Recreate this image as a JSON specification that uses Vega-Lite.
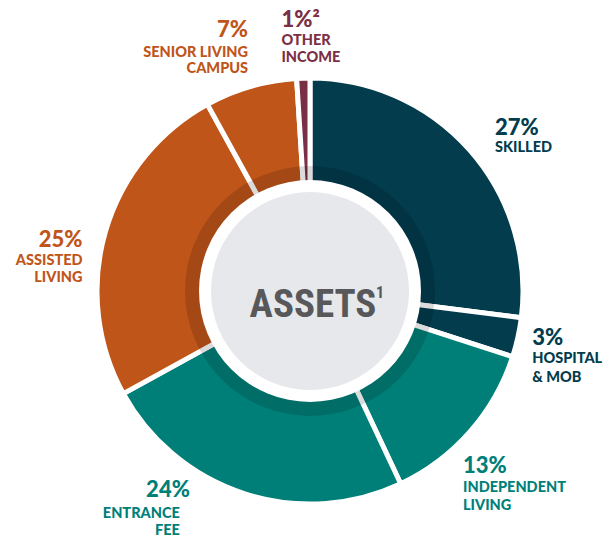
{
  "$schema": "https://vega.github.io/schema/vega-lite/v6.json",
  "width": 610,
  "height": 492,
  "padding": {"left": 5, "top": 45, "right": 0, "bottom": 0},
  "autosize": {"type": "none"},
  "background": "white",
  "config": {"view": {"stroke": null}},
  "data": {
    "values": [
      {"idx": 1, "segment": "Skilled", "value": 27, "pct": "27%", "name": "SKILLED"},
      {"idx": 2, "segment": "Hospital & MOB", "value": 3, "pct": "3%", "name": "HOSPITAL\n& MOB"},
      {"idx": 3, "segment": "Independent Living", "value": 13, "pct": "13%", "name": "INDEPENDENT\nLIVING"},
      {"idx": 4, "segment": "Entrance Fee", "value": 24, "pct": "24%", "name": "ENTRANCE\nFEE"},
      {"idx": 5, "segment": "Assisted Living", "value": 25, "pct": "25%", "name": "ASSISTED\nLIVING"},
      {"idx": 6, "segment": "Senior Living Campus", "value": 7, "pct": "7%", "name": "SENIOR LIVING\nCAMPUS"},
      {"idx": 7, "segment": "Other Income", "value": 1, "pct": "1%²", "name": "OTHER\nINCOME"}
    ]
  },
  "encoding": {
    "theta": {"field": "value", "type": "quantitative", "stack": true},
    "order": {"field": "idx", "type": "quantitative"},
    "color": {
      "field": "segment", "type": "nominal", "legend": null,
      "scale": {
        "domain": ["Skilled", "Hospital & MOB", "Independent Living", "Entrance Fee", "Assisted Living", "Senior Living Campus", "Other Income"],
        "range": ["#023c4d", "#023c4d", "#007f79", "#007f79", "#bf5519", "#bf5519", "#7b2f45"]
      }
    }
  },
  "layer": [
    {"mark": {"type": "arc", "innerRadius": 100, "outerRadius": 213, "stroke": "white", "strokeWidth": 5}},
    {"data": {"values": [{}]}, "mark": {"type": "arc", "innerRadius": 108, "outerRadius": 125, "fill": "black", "fillOpacity": 0.14}, "encoding": {"theta": null, "order": null, "color": null}},
    {"data": {"values": [{}]}, "mark": {"type": "arc", "innerRadius": 0, "outerRadius": 111, "fill": "white"}, "encoding": {"theta": null, "order": null, "color": null}},
    {"data": {"values": [{}]}, "mark": {"type": "arc", "innerRadius": 0, "outerRadius": 99, "fill": "#e6e8ec"}, "encoding": {"theta": null, "order": null, "color": null}},
    {"data": {"values": [{}]}, "mark": {"type": "text", "text": "ASSETS", "align": "center", "baseline": "alphabetic", "dx": 3, "dy": 26, "font": "Roboto Condensed, Liberation Sans Narrow, Roboto", "fontSize": 39, "fontWeight": "bold", "fill": "#58585a"}, "encoding": {"theta": null, "order": null, "color": null}},
    {"data": {"values": [{}]}, "mark": {"type": "text", "text": "1", "align": "left", "baseline": "alphabetic", "dx": 66, "dy": 7, "font": "Roboto Condensed, Liberation Sans Narrow, Roboto", "fontSize": 16, "fontWeight": "bold", "fill": "#58585a"}, "encoding": {"theta": null, "order": null, "color": null}},

    {"mark": {"type": "text", "radius": 240, "align": "left", "baseline": "alphabetic", "dx": 5, "dy": 3, "font": "Lato", "fontSize": 22, "fontWeight": 900},
     "encoding": {"text": {"condition": {"test": "datum.segment === 'Skilled'", "field": "pct"}, "value": ""}}},
    {"mark": {"type": "text", "radius": 240, "align": "left", "baseline": "alphabetic", "dx": 5, "dy": 20, "font": "Lato", "fontSize": 14.5, "fontWeight": 900, "lineBreak": "\n", "lineHeight": 17},
     "encoding": {"text": {"condition": {"test": "datum.segment === 'Skilled'", "field": "name"}, "value": ""}}},

    {"mark": {"type": "text", "radius": 240, "align": "left", "baseline": "alphabetic", "dx": -12, "dy": 2, "font": "Lato", "fontSize": 22, "fontWeight": 900},
     "encoding": {"text": {"condition": {"test": "datum.segment === 'Hospital & MOB'", "field": "pct"}, "value": ""}}},
    {"mark": {"type": "text", "radius": 240, "align": "left", "baseline": "alphabetic", "dx": -12, "dy": 20, "font": "Lato", "fontSize": 14.5, "fontWeight": 900, "lineBreak": "\n", "lineHeight": 19},
     "encoding": {"text": {"condition": {"test": "datum.segment === 'Hospital & MOB'", "field": "name"}, "value": ""}}},

    {"mark": {"type": "text", "radius": 240, "align": "left", "baseline": "alphabetic", "dx": -27, "dy": 23, "font": "Lato", "fontSize": 22, "fontWeight": 900},
     "encoding": {"text": {"condition": {"test": "datum.segment === 'Independent Living'", "field": "pct"}, "value": ""}}},
    {"mark": {"type": "text", "radius": 240, "align": "left", "baseline": "alphabetic", "dx": -27, "dy": 42, "font": "Lato", "fontSize": 14.5, "fontWeight": 900, "lineBreak": "\n", "lineHeight": 18},
     "encoding": {"text": {"condition": {"test": "datum.segment === 'Independent Living'", "field": "name"}, "value": ""}}},

    {"mark": {"type": "text", "radius": 240, "align": "right", "baseline": "alphabetic", "dx": -46, "dy": -22, "font": "Lato", "fontSize": 22, "fontWeight": 900},
     "encoding": {"text": {"condition": {"test": "datum.segment === 'Entrance Fee'", "field": "pct"}, "value": ""}}},
    {"mark": {"type": "text", "radius": 240, "align": "right", "baseline": "alphabetic", "dx": -56, "dy": -1, "font": "Lato", "fontSize": 14.5, "fontWeight": 900, "lineBreak": "\n", "lineHeight": 17},
     "encoding": {"text": {"condition": {"test": "datum.segment === 'Entrance Fee'", "field": "name"}, "value": ""}}},

    {"mark": {"type": "text", "radius": 240, "align": "right", "baseline": "alphabetic", "dx": 3, "dy": 23, "font": "Lato", "fontSize": 22, "fontWeight": 900},
     "encoding": {"text": {"condition": {"test": "datum.segment === 'Assisted Living'", "field": "pct"}, "value": ""}}},
    {"mark": {"type": "text", "radius": 240, "align": "right", "baseline": "alphabetic", "dx": 3, "dy": 41, "font": "Lato", "fontSize": 14.5, "fontWeight": 900, "lineBreak": "\n", "lineHeight": 17},
     "encoding": {"text": {"condition": {"test": "datum.segment === 'Assisted Living'", "field": "name"}, "value": ""}}},

    {"mark": {"type": "text", "radius": 240, "align": "right", "baseline": "alphabetic", "dx": 5, "dy": -24, "font": "Lato", "fontSize": 22, "fontWeight": 900},
     "encoding": {"text": {"condition": {"test": "datum.segment === 'Senior Living Campus'", "field": "pct"}, "value": ""}}},
    {"mark": {"type": "text", "radius": 240, "align": "right", "baseline": "alphabetic", "dx": 5, "dy": -4, "font": "Lato", "fontSize": 14.5, "fontWeight": 900, "lineBreak": "\n", "lineHeight": 16},
     "encoding": {"text": {"condition": {"test": "datum.segment === 'Senior Living Campus'", "field": "name"}, "value": ""}}},

    {"mark": {"type": "text", "radius": 240, "align": "left", "baseline": "alphabetic", "dx": -21, "dy": -24, "font": "Lato", "fontSize": 22, "fontWeight": 900},
     "encoding": {"text": {"condition": {"test": "datum.segment === 'Other Income'", "field": "pct"}, "value": ""}}},
    {"mark": {"type": "text", "radius": 240, "align": "left", "baseline": "alphabetic", "dx": -21, "dy": -6, "font": "Lato", "fontSize": 14.5, "fontWeight": 900, "lineBreak": "\n", "lineHeight": 17},
     "encoding": {"text": {"condition": {"test": "datum.segment === 'Other Income'", "field": "name"}, "value": ""}}}
  ]
}
